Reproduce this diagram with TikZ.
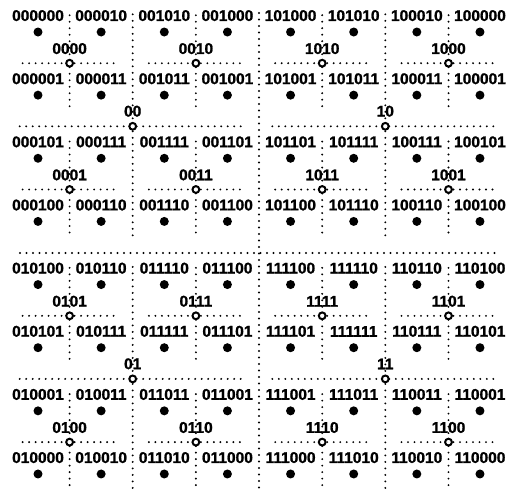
\documentclass[tikz,border=0pt]{standalone}
\usepackage{fontspec}
\setmainfont{Liberation Sans}
\newfontfamily\codefont[FakeBold=1.3]{Liberation Sans Bold}
\begin{document}
\begin{tikzpicture}[x=1pt,y=-1pt,
    code/.style={font=\fontsize{15.5}{17}\selectfont\codefont, inner sep=0pt},
    leaf/.style={circle, fill=black, inner sep=0pt, minimum size=9pt},
    split/.style={circle, draw=black, line width=2pt, fill=white, inner sep=0pt, minimum size=6.8pt},
    divider/.style={line width=2.1pt, line cap=round, dash pattern=on 0pt off 6.5pt}]
        \useasboundingbox (0,0) rectangle (509,488);

        % top level split
        \coordinate (root) at (259,253);
        \draw[divider] ([xshift=-239pt]root) -- ([xshift=241pt]root);
        \draw[divider] ([yshift=240pt]root) -- ([yshift=-240pt]root);

        % second level
        \foreach \code/\cx/\cy in {00/0/0,10/1/0,01/0/1,11/1/1}{
            \coordinate (q\code) at ({132.7+252.6*\cx},{126.3+252.6*\cy});
            \draw[divider] ([xshift=-113pt]q\code) -- ([xshift=113pt]q\code);
            \draw[divider] ([yshift=112pt]q\code) -- ([yshift=-112pt]q\code);
            \node[split, label={[code, label distance=5pt]above:\code}] (s\code) at (q\code) {};
        }

        % third level
        \foreach \code/\cx/\cy in {0000/0/0,0010/1/0,1010/2/0,1000/3/0,
                                   0001/0/1,0011/1/1,1011/2/1,1001/3/1,
                                   0101/0/2,0111/1/2,1111/2/2,1101/3/2,
                                   0100/0/3,0110/1/3,1110/2/3,1100/3/3}{
            \coordinate (q\code) at ({69.6+126.3*\cx},{63.2+126.3*\cy});
            \draw[divider] ([xshift=-47pt]q\code) -- ([xshift=47pt]q\code);
            \draw[divider] ([yshift=48pt]q\code) -- ([yshift=-48pt]q\code);
            \node[split, label={[code, label distance=4.5pt]above:\code}] (s\code) at (q\code) {};
        }

        % leaves
        \foreach \row [count=\rowno from 0] in {
            {000000,000010,001010,001000,101000,101010,100010,100000},
            {000001,000011,001011,001001,101001,101011,100011,100001},
            {000101,000111,001111,001101,101101,101111,100111,100101},
            {000100,000110,001110,001100,101100,101110,100110,100100},
            {010100,010110,011110,011100,111100,111110,110110,110100},
            {010101,010111,011111,011101,111101,111111,110111,110101},
            {010001,010011,011011,011001,111001,111011,110011,110001},
            {010000,010010,011010,011000,111000,111010,110010,110000}}{
            \foreach \code [count=\colno from 0] in \row
                \node[leaf, label={[code, label distance=6pt]above:\code}] (p\code)
                    at ({38+63.14*\colno},{32+63.14*\rowno}) {};
        }
    \end{tikzpicture}
\end{document}
